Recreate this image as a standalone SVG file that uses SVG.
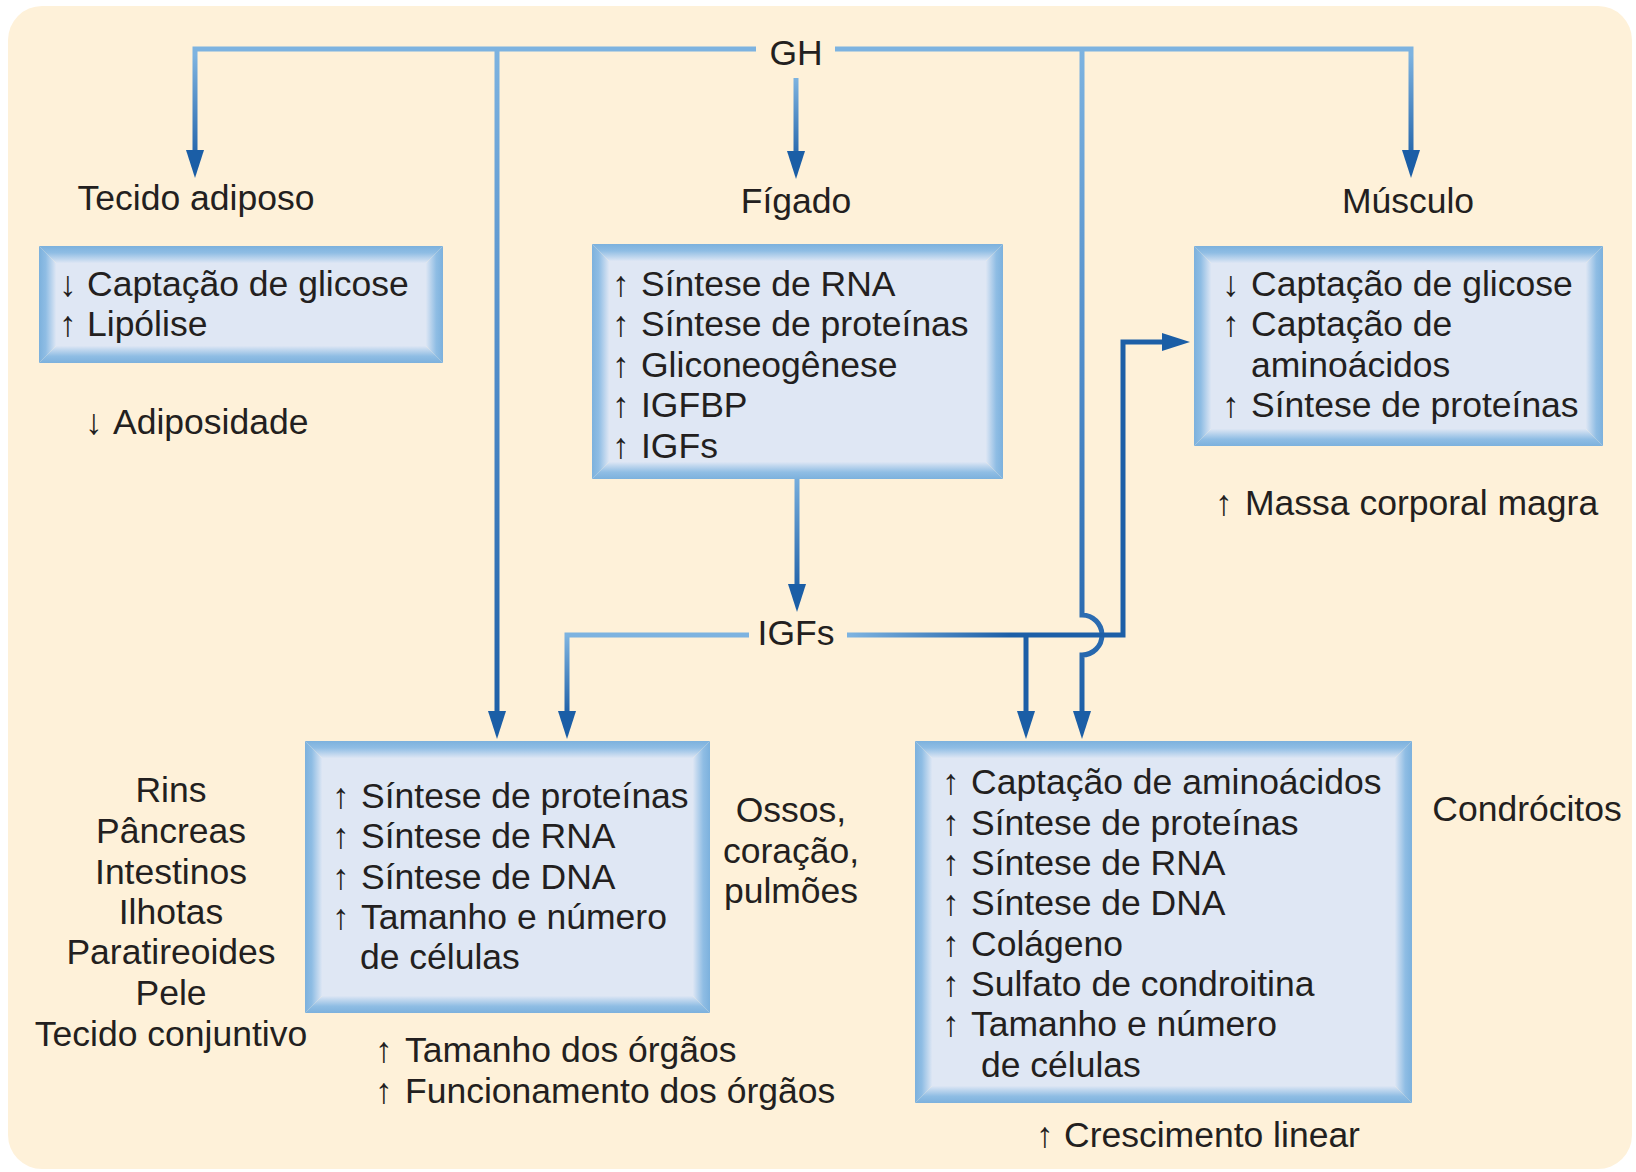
<svg xmlns="http://www.w3.org/2000/svg" width="1636" height="1172" viewBox="0 0 1636 1172">
<style>
.t{font-family:"Liberation Sans",Arial,Helvetica,sans-serif;font-size:35.5px;fill:#231f20}
.c{text-anchor:middle}
.bt{fill:url(#bvT)}.bb{fill:url(#bvB)}.bl{fill:url(#bvL)}.br{fill:url(#bvR)}
.in{fill:#dfe7f4}
.ln{fill:none;stroke-width:5;stroke-linejoin:miter}
.ar{marker-end:url(#ah)}
</style>
<defs>
<linearGradient id="bvT" x1="0" y1="0" x2="0" y2="1"><stop offset="0" stop-color="#7cb1dd"/><stop offset="0.4" stop-color="#8fbde4"/><stop offset="1" stop-color="#dde6f4"/></linearGradient>
<linearGradient id="bvB" href="#bvT" x1="0" y1="1" x2="0" y2="0"/>
<linearGradient id="bvL" href="#bvT" x1="0" y1="0" x2="1" y2="0"/>
<linearGradient id="bvR" href="#bvT" x1="1" y1="0" x2="0" y2="0"/>
<linearGradient id="gTop" gradientUnits="userSpaceOnUse" x1="0" y1="55" x2="0" y2="165"><stop offset="0" stop-color="#7db3e0"/><stop offset="1" stop-color="#1d5fa7"/></linearGradient>
<linearGradient id="gDn" gradientUnits="userSpaceOnUse" x1="0" y1="78" x2="0" y2="165"><stop offset="0" stop-color="#7db3e0"/><stop offset="1" stop-color="#1d5fa7"/></linearGradient>
<linearGradient id="gLong" gradientUnits="userSpaceOnUse" x1="0" y1="49" x2="0" y2="720"><stop offset="0" stop-color="#7db3e0"/><stop offset="0.5" stop-color="#4d8ac8"/><stop offset="1" stop-color="#1d5fa7"/></linearGradient>
<linearGradient id="gF" gradientUnits="userSpaceOnUse" x1="0" y1="470" x2="0" y2="595"><stop offset="0" stop-color="#7db3e0"/><stop offset="1" stop-color="#1d5fa7"/></linearGradient>
<linearGradient id="gIL" gradientUnits="userSpaceOnUse" x1="0" y1="636" x2="0" y2="715"><stop offset="0" stop-color="#7db3e0"/><stop offset="1" stop-color="#1d5fa7"/></linearGradient>
<linearGradient id="gIR" gradientUnits="userSpaceOnUse" x1="850" y1="0" x2="1010" y2="0"><stop offset="0" stop-color="#7db3e0"/><stop offset="1" stop-color="#1d5fa7"/></linearGradient>
<marker id="ah" viewBox="0 0 28 18" refX="3" refY="9" markerWidth="28" markerHeight="18" markerUnits="userSpaceOnUse" orient="auto"><path d="M0,0 L28,9 L0,18 Z" fill="#1b5ea6"/></marker>
</defs>
<rect x="0" y="0" width="1636" height="1172" fill="#ffffff"/>
<rect x="8" y="6" width="1624" height="1163" rx="34" fill="#fef1d9"/>

<g id="connectors">
<path class="ln ar" stroke="url(#gTop)" d="M756,49 H195 V153"/>
<path class="ln ar" stroke="url(#gTop)" d="M835,49 H1411 V153"/>
<path class="ln ar" stroke="url(#gDn)" d="M796,78 V154"/>
<path class="ln ar" stroke="url(#gLong)" d="M497,49 V714"/>
<path class="ln ar" stroke="url(#gLong)" d="M1082,49 V615 A20,20 0 0 1 1082,655 V714"/>
<path class="ln ar" stroke="url(#gF)" d="M797,468 V587"/>
<path class="ln ar" stroke="url(#gIL)" d="M749,635 H567 V714"/>
<path class="ln ar" stroke="url(#gIR)" d="M847,635 H1123 V342 H1165"/>
<path class="ln ar" stroke="#1d5fa7" d="M1026,635 V714"/>
</g>

<g id="gh"><text class="t c" x="796" y="65">GH</text></g>
<g id="tecido-adiposo"><text class="t c" x="196" y="210">Tecido adiposo</text></g>
<g id="figado"><text class="t c" x="796" y="213">Fígado</text></g>
<g id="musculo"><text class="t c" x="1408" y="213">Músculo</text></g>
<g id="igfs"><text class="t c" x="796" y="645">IGFs</text></g>

<g id="adiposo-box">
<polygon class="bt" points="39,246 443,246 426,263 56,263"/>
<polygon class="bb" points="39,363 443,363 426,346 56,346"/>
<polygon class="bl" points="39,246 56,263 56,346 39,363"/>
<polygon class="br" points="443,246 426,263 426,346 443,363"/>
<rect class="in" x="56" y="263" width="370" height="83"/>
<text class="t" x="59" y="296">↓<tspan x="87">Captação de glicose</tspan></text>
<text class="t" x="59" y="336">↑<tspan x="87">Lipólise</tspan></text>
</g>
<g id="adiposidade"><text class="t" x="85" y="434">↓<tspan x="113">Adiposidade</tspan></text></g>

<g id="figado-box">
<polygon class="bt" points="592,244 1003,244 986,261 609,261"/>
<polygon class="bb" points="592,479 1003,479 986,462 609,462"/>
<polygon class="bl" points="592,244 609,261 609,462 592,479"/>
<polygon class="br" points="1003,244 986,261 986,462 1003,479"/>
<rect class="in" x="609" y="261" width="377" height="201"/>
<text class="t" x="612" y="296">↑<tspan x="641">Síntese de RNA</tspan></text>
<text class="t" x="612" y="336">↑<tspan x="641">Síntese de proteínas</tspan></text>
<text class="t" x="612" y="377">↑<tspan x="641">Gliconeogênese</tspan></text>
<text class="t" x="612" y="417">↑<tspan x="641">IGFBP</tspan></text>
<text class="t" x="612" y="458">↑<tspan x="641">IGFs</tspan></text>
</g>

<g id="musculo-box">
<polygon class="bt" points="1194,246 1603,246 1586,263 1211,263"/>
<polygon class="bb" points="1194,446 1603,446 1586,429 1211,429"/>
<polygon class="bl" points="1194,246 1211,263 1211,429 1194,446"/>
<polygon class="br" points="1603,246 1586,263 1586,429 1603,446"/>
<rect class="in" x="1211" y="263" width="375" height="166"/>
<text class="t" x="1222" y="296">↓<tspan x="1251">Captação de glicose</tspan></text>
<text class="t" x="1222" y="336">↑<tspan x="1251">Captação de</tspan></text>
<text class="t" x="1251" y="377">aminoácidos</text>
<text class="t" x="1222" y="417">↑<tspan x="1251">Síntese de proteínas</tspan></text>
</g>
<g id="massa"><text class="t" x="1215" y="515">↑<tspan x="1245">Massa corporal magra</tspan></text></g>

<g id="orgaos-list">
<text class="t c" x="171" y="802">Rins</text>
<text class="t c" x="171" y="843">Pâncreas</text>
<text class="t c" x="171" y="884">Intestinos</text>
<text class="t c" x="171" y="924">Ilhotas</text>
<text class="t c" x="171" y="964">Paratireoides</text>
<text class="t c" x="171" y="1005">Pele</text>
<text class="t c" x="171" y="1046">Tecido conjuntivo</text>
</g>

<g id="orgaos-box">
<polygon class="bt" points="305,741 710,741 693,758 322,758"/>
<polygon class="bb" points="305,1013 710,1013 693,996 322,996"/>
<polygon class="bl" points="305,741 322,758 322,996 305,1013"/>
<polygon class="br" points="710,741 693,758 693,996 710,1013"/>
<rect class="in" x="322" y="758" width="371" height="238"/>
<text class="t" x="332" y="808">↑<tspan x="361">Síntese de proteínas</tspan></text>
<text class="t" x="332" y="848">↑<tspan x="361">Síntese de RNA</tspan></text>
<text class="t" x="332" y="889">↑<tspan x="361">Síntese de DNA</tspan></text>
<text class="t" x="332" y="929">↑<tspan x="361">Tamanho e número</tspan></text>
<text class="t" x="360" y="969">de células</text>
</g>

<g id="ossos"><text class="t c" x="791" y="822">Ossos,</text><text class="t c" x="791" y="863">coração,</text><text class="t c" x="791" y="903">pulmões</text></g>

<g id="orgaos-efeito"><text class="t" x="375" y="1062">↑<tspan x="405">Tamanho dos órgãos</tspan></text><text class="t" x="375" y="1103">↑<tspan x="405">Funcionamento dos órgãos</tspan></text></g>

<g id="condrocitos-box">
<polygon class="bt" points="915,741 1412,741 1395,758 932,758"/>
<polygon class="bb" points="915,1103 1412,1103 1395,1086 932,1086"/>
<polygon class="bl" points="915,741 932,758 932,1086 915,1103"/>
<polygon class="br" points="1412,741 1395,758 1395,1086 1412,1103"/>
<rect class="in" x="932" y="758" width="463" height="328"/>
<text class="t" x="942" y="794">↑<tspan x="971">Captação de aminoácidos</tspan></text>
<text class="t" x="942" y="835">↑<tspan x="971">Síntese de proteínas</tspan></text>
<text class="t" x="942" y="875">↑<tspan x="971">Síntese de RNA</tspan></text>
<text class="t" x="942" y="915">↑<tspan x="971">Síntese de DNA</tspan></text>
<text class="t" x="942" y="956">↑<tspan x="971">Colágeno</tspan></text>
<text class="t" x="942" y="996">↑<tspan x="971">Sulfato de condroitina</tspan></text>
<text class="t" x="942" y="1036">↑<tspan x="971">Tamanho e número</tspan></text>
<text class="t" x="981" y="1077">de células</text>
</g>
<g id="condrocitos"><text class="t c" x="1527" y="821">Condrócitos</text></g>
<g id="crescimento"><text class="t" x="1036" y="1147">↑<tspan x="1064">Crescimento linear</tspan></text></g>
</svg>
